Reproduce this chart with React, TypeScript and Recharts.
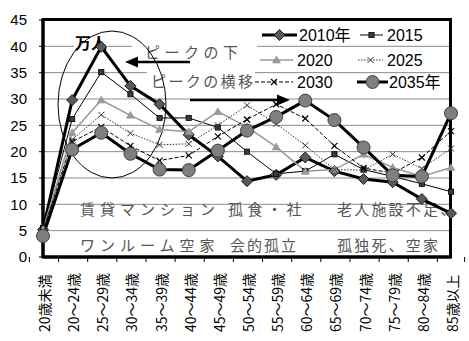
import React from 'react';
import { ComposedChart, Line, XAxis, YAxis, CartesianGrid, Legend, Customized } from 'recharts';

const W = 469;
const H = 341;
const PLOT = { left: 43, top: 20, right: 451, bottom: 257 };

const categories = [
  '20歳未満', '20～24歳', '25～29歳', '30～34歳', '35～39歳', '40～44歳', '45～49歳',
  '50～54歳', '55～59歳', '60～64歳', '65～69歳', '70～74歳', '75～79歳', '80～84歳', '85歳以上',
];
const v2010 = [5.2, 29.8, 39.9, 32.5, 29.0, 23.2, 19.1, 14.4, 15.6, 18.9, 16.3, 14.8, 14.2, 11.0, 8.3];
const v2015 = [5.5, 26.2, 35.1, 30.9, 26.4, 26.4, 24.6, 20.0, 15.8, 16.3, 19.5, 16.6, 15.3, 13.9, 12.4];
const v2020 = [5.2, 23.6, 29.8, 26.9, 24.2, 23.8, 27.6, 24.7, 20.9, 16.3, 16.6, 19.5, 17.0, 15.3, 17.0];
const v2025 = [5.0, 22.3, 27.0, 23.5, 21.3, 21.5, 25.0, 28.8, 25.3, 21.2, 16.6, 16.5, 19.5, 16.8, 20.6];
const v2030 = [4.8, 21.9, 24.7, 21.1, 18.3, 19.3, 22.9, 26.1, 29.0, 26.3, 21.1, 16.9, 15.9, 18.9, 23.9];
const v2035 = [4.0, 20.4, 23.6, 19.6, 16.6, 16.5, 20.2, 24.0, 26.6, 29.7, 26.0, 20.8, 15.5, 15.3, 27.3];
const yTicks = [0, 5, 10, 15, 20, 25, 30, 35, 40, 45];
const seriesNames = ['2010年', '2015', '2020', '2025', '2030', '2035年'];
const seriesKeys = ['y2010', 'y2015', 'y2020', 'y2025', 'y2030', 'y2035'];
const seriesValues = [v2010, v2015, v2020, v2025, v2030, v2035];

const data = categories.map((cat, i) => {
  const row: Record<string, string | number> = { cat };
  seriesKeys.forEach((k, s) => { row[k] = seriesValues[s][i]; });
  return row;
});

const BAND = (PLOT.right - PLOT.left) / categories.length;
const CJK = "'Noto Sans CJK JP', 'Noto Sans', sans-serif";
const NUM = "'Liberation Sans', 'Noto Sans CJK JP', sans-serif";

type ShapeFn = (cx: number, cy: number) => React.ReactNode;
const diamond: ShapeFn = (cx, cy) => (
  <path d={`M${cx},${cy - 5.5}L${cx + 5.5},${cy}L${cx},${cy + 5.5}L${cx - 5.5},${cy}Z`} fill="#5a5a5a" stroke="#1a1a1a" strokeWidth={1} />
);
const square: ShapeFn = (cx, cy) => (
  <rect x={cx - 2.6} y={cy - 2.6} width={5.2} height={5.2} fill="#3a3a3a" stroke="#000" strokeWidth={0.8} />
);
const triangle: ShapeFn = (cx, cy) => (
  <path d={`M${cx},${cy - 4}L${cx + 4},${cy + 3}L${cx - 4},${cy + 3}Z`} fill="#9a9a9a" stroke="#8a8a8a" strokeWidth={0.5} />
);
const xmark = (color: string, w: number): ShapeFn => (cx, cy) => (
  <g stroke={color} strokeWidth={w}>
    <line x1={cx - 3} y1={cy - 3} x2={cx + 3} y2={cy + 3} />
    <line x1={cx - 3} y1={cy + 3} x2={cx + 3} y2={cy - 3} />
  </g>
);
const circle: ShapeFn = (cx, cy) => (
  <circle cx={cx} cy={cy} r={6.5} fill="#7f7f7f" stroke="#404040" strokeWidth={1} />
);

const seriesStyles = [
  { stroke: '#000', width: 3, dash: undefined as string | undefined, shape: diamond },
  { stroke: '#000', width: 1, dash: undefined, shape: square },
  { stroke: '#999', width: 1.5, dash: undefined, shape: triangle },
  { stroke: '#333', width: 1, dash: '1.5 1.5', shape: xmark('#333', 1) },
  { stroke: '#000', width: 1, dash: '4 2', shape: xmark('#000', 1.2) },
  { stroke: '#000', width: 3, dash: undefined, shape: circle },
];

// legend placement (decoration positions)
const legendPos = [
  { x1: 262, x2: 297, y: 35, tx: 299 },
  { x1: 360, x2: 383, y: 35, tx: 387 },
  { x1: 260, x2: 293, y: 60, tx: 297 },
  { x1: 358, x2: 383, y: 60, tx: 387 },
  { x1: 255, x2: 293, y: 82, tx: 297 },
  { x1: 357, x2: 388, y: 82, tx: 389 },
];

const makeDot = (shape: ShapeFn) => (props: any) => {
  const { cx, cy, index } = props;
  if (cx == null || cy == null) return <g key={`n${index}`} />;
  return <g key={`d${index}`}>{shape(cx, cy)}</g>;
};

const XTick = (props: any) => {
  const { x, y, payload, index } = props;
  return (
    <g>
      <line x1={x - BAND / 2} x2={x - BAND / 2} y1={y} y2={y + 5} stroke="#000" strokeWidth={1} />
      {index === categories.length - 1 && (
        <line x1={x + BAND / 2} x2={x + BAND / 2} y1={y} y2={y + 5} stroke="#000" strokeWidth={1} />
      )}
      <text
        transform={`translate(${x + 1},${y + 75}) rotate(-90)`}
        textAnchor="start"
        dominantBaseline="central"
        fontSize={14}
        fontFamily={CJK}
        fill="#000"
      >
        {payload.value}
      </text>
    </g>
  );
};

const LegendContent = () => (
  <svg width={W} height={100} style={{ position: 'absolute', left: 0, top: 0, overflow: 'visible' }}>
    {seriesNames.map((name, i) => {
      const p = legendPos[i];
      const st = seriesStyles[i];
      const mx = (p.x1 + p.x2) / 2;
      return (
        <g key={name}>
          <line x1={p.x1} x2={p.x2} y1={p.y} y2={p.y} stroke={st.stroke} strokeWidth={st.width} strokeDasharray={st.dash} />
          {st.shape(mx, p.y)}
          <text x={p.tx} y={p.y} dominantBaseline="central" fontSize={16} fontFamily={NUM} fill="#000">{name}</text>
        </g>
      );
    })}
  </svg>
);

const Annotations = () => {
  const txt = { fontFamily: CJK, fill: '#555', fontSize: 15, dominantBaseline: 'central' as const };
  return (
    <g>
      <rect x={74} y={33} width={34} height={17} fill="#fff" />
      <rect x={132} y={41} width={125} height={19} fill="#fff" />
      <rect x={147} y={70} width={108} height={20} fill="#fff" />
      <text x={75} y={41.5} fontSize={16} fontWeight="bold" fontFamily={CJK} fill="#000" dominantBaseline="central">万人</text>
      <text x={145} y={51} {...txt} letterSpacing={4.5}>ピークの下</text>
      <text x={151} y={80.5} {...txt} letterSpacing={2.4}>ピークの横移</text>
      <text x={80} y={208} {...txt} letterSpacing={5}>賃貸マンション</text>
      <text x={228} y={208} {...txt} letterSpacing={4.5}>孤食・社</text>
      <text x={337} y={208} {...txt} letterSpacing={2.2}>老人施設不足、</text>
      <text x={80} y={244} {...txt} letterSpacing={5}>ワンルーム空家</text>
      <text x={230} y={244} {...txt} letterSpacing={2}>会的孤立</text>
      <text x={337} y={244} {...txt} letterSpacing={2.2}>孤独死、空家</text>
      <ellipse cx={112} cy={104.5} rx={54} ry={73.5} fill="none" stroke="#000" strokeWidth={1} />
      <line x1={190} y1={62} x2={135} y2={62} stroke="#000" strokeWidth={2.6} />
      <polygon points="125,62 138,56.5 138,67.5" fill="#000" />
      <line x1={190} y1={100} x2={279} y2={100} stroke="#000" strokeWidth={2.6} />
      <polygon points="290,100 277,94.5 277,105.5" fill="#000" />
      <rect x={PLOT.left} y={PLOT.top - 0.5} width={PLOT.right - PLOT.left - 0.5} height={PLOT.bottom - PLOT.top + 0.5} fill="none" stroke="#000" strokeWidth={3} />
    </g>
  );
};

export default function App() {
  return (
    <div style={{ position: 'absolute', left: 0, top: 0, width: W, height: H, background: '#fff' }}>
      <ComposedChart
        width={W}
        height={H}
        data={data}
        margin={{ top: PLOT.top, right: W - PLOT.right, bottom: 0, left: 0 }}
      >
        <CartesianGrid vertical={false} stroke="#8a8a8a" strokeWidth={1} />
        <XAxis
          dataKey="cat"
          interval={0}
          height={H - PLOT.bottom}
          tickLine={false}
          tickSize={0}
          tickMargin={0}
          axisLine={{ stroke: '#000', strokeWidth: 3 }}
          tick={<XTick />}
        />
        <YAxis
          domain={[0, 45]}
          ticks={yTicks}
          interval={0}
          width={PLOT.left}
          tickSize={4}
          tickMargin={12}
          axisLine={{ stroke: '#000', strokeWidth: 3 }}
          tickLine={{ stroke: '#000' }}
          tick={{ fontSize: 15, fill: '#000', fontFamily: NUM }}
        />
        <Legend
          layout="horizontal"
          verticalAlign="middle"
          align="center"
          wrapperStyle={{ position: 'absolute', left: 0, top: 0, width: W, height: 100 }}
          content={<LegendContent />}
        />
        {seriesKeys.map((k, i) => (
          <Line
            key={k}
            dataKey={k}
            name={seriesNames[i]}
            type="linear"
            stroke={seriesStyles[i].stroke}
            strokeWidth={seriesStyles[i].width}
            strokeDasharray={seriesStyles[i].dash}
            dot={makeDot(seriesStyles[i].shape)}
            activeDot={false}
            isAnimationActive={false}
          />
        ))}
        <Customized component={Annotations} />
      </ComposedChart>
    </div>
  );
}
